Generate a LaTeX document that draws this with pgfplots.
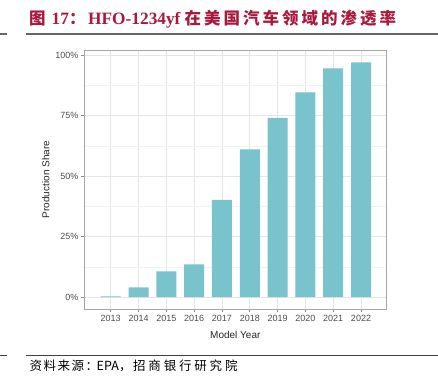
\documentclass[border=0pt]{standalone}
\usepackage{pgfplots}
\pgfplotsset{compat=1.18}
\usepackage{fontspec}
\setmainfont{Liberation Sans}
\newfontfamily\cjk{Noto Sans CJK SC}
\newfontfamily\serifb{Liberation Serif}
\definecolor{titlered}{HTML}{A8193D}
\definecolor{barcol}{HTML}{79C3CC}
\definecolor{ticklab}{HTML}{4D4D4D}
\newcommand{\cb}[2]{\makebox[#1][l]{#2}}
\begin{document}
\begin{tikzpicture}[x=1bp,y=1bp]
\path[use as bounding box] (0,0) rectangle (438,378);
\fill[white] (0,0) rectangle (438,378);
% title
\begin{scope}[every node/.style={anchor=base west, inner sep=0, text=titlered}]
\node[font=\cjk\bfseries\fontsize{16.5bp}{18bp}\selectfont] at (29,354) {图};
\node[font=\serifb\bfseries\fontsize{17.3bp}{18bp}\selectfont] at (51.5,354) {17};
\node[font=\cjk\bfseries\fontsize{16.5bp}{18bp}\selectfont] at (69,354) {：};
\node[font=\serifb\bfseries\fontsize{17.3bp}{18bp}\selectfont] at (88,354) {HFO-1234yf};
\node[font=\cjk\bfseries\fontsize{16.5bp}{18bp}\selectfont] at (184.5,354)
 {\cb{19.5bp}{在}\cb{19.5bp}{美}\cb{19.5bp}{国}\cb{19.5bp}{汽}\cb{19.5bp}{车}\cb{19.5bp}{领}\cb{19.5bp}{域}\cb{19.5bp}{的}\cb{19.5bp}{渗}\cb{19.5bp}{透}率};
\end{scope}
\draw[line width=2bp, color=black!60] (0,344) -- (7,344);
\draw[line width=2bp, color=black!60] (26,344) -- (438,344);
\draw[line width=1bp, color=black!75] (0,23) -- (7,23);
\draw[line width=1bp, color=black!75] (26,23) -- (438,23);
% source
\node[anchor=base west, inner sep=0, font=\cjk\fontsize{12.5bp}{14bp}\selectfont] at (29.5,7.5)
 {\cb{14bp}{资}\cb{14bp}{料}\cb{14bp}{来}\cb{14bp}{源}\cb{11bp}{：}\cb{22.5bp}{EPA}\cb{14bp}{，}\cb{15.3bp}{招}\cb{15.3bp}{商}\cb{15.3bp}{银}\cb{15.3bp}{行}\cb{15.3bp}{研}\cb{15.3bp}{究}院};
\begin{axis}[
  at={(84.3bp,69bp)}, anchor=south west,
  width=302bp, height=259bp, scale only axis,
  xmin=-0.95, xmax=9.91, ymin=-4.96, ymax=102.1,
  xtick={0,...,9},
  xticklabels={2013,2014,2015,2016,2017,2018,2019,2020,2021,2022},
  ytick={0,25,50,75,100},
  yticklabels={0\%,25\%,50\%,75\%,100\%},
  minor ytick={12.5,37.5,62.5,87.5},
  ymajorgrids, xmajorgrids, yminorgrids,
  major grid style={color=black!10, line width=0.6bp},
  minor grid style={color=black!5, line width=0.4bp},
  axis line style={color=black!35, line width=0.7bp},
  tick align=outside, major tick length=3bp,
  tick pos=left,
  major tick style={color=black!45, line width=0.6bp},
  minor tick length=0pt,
  tick label style={font=\fontsize{9bp}{10bp}\selectfont, text=ticklab},
  yticklabel style={xshift=0.5bp},
  /pgf/number format/assume math mode=true,
  xlabel={Model Year}, ylabel={Production Share},
  label style={font=\fontsize{10bp}{11bp}\selectfont, text=black!85},
  xlabel style={yshift=-3bp},
  ylabel style={yshift=-1bp},
]
\addplot[ybar, bar width=20bp, fill=barcol, draw=none] coordinates {
 (0,0.3) (1,4.0) (2,10.6) (3,13.5) (4,40.2) (5,61.0) (6,74.0) (7,84.6) (8,94.5) (9,97.0)};
\end{axis}
\end{tikzpicture}
\end{document}
